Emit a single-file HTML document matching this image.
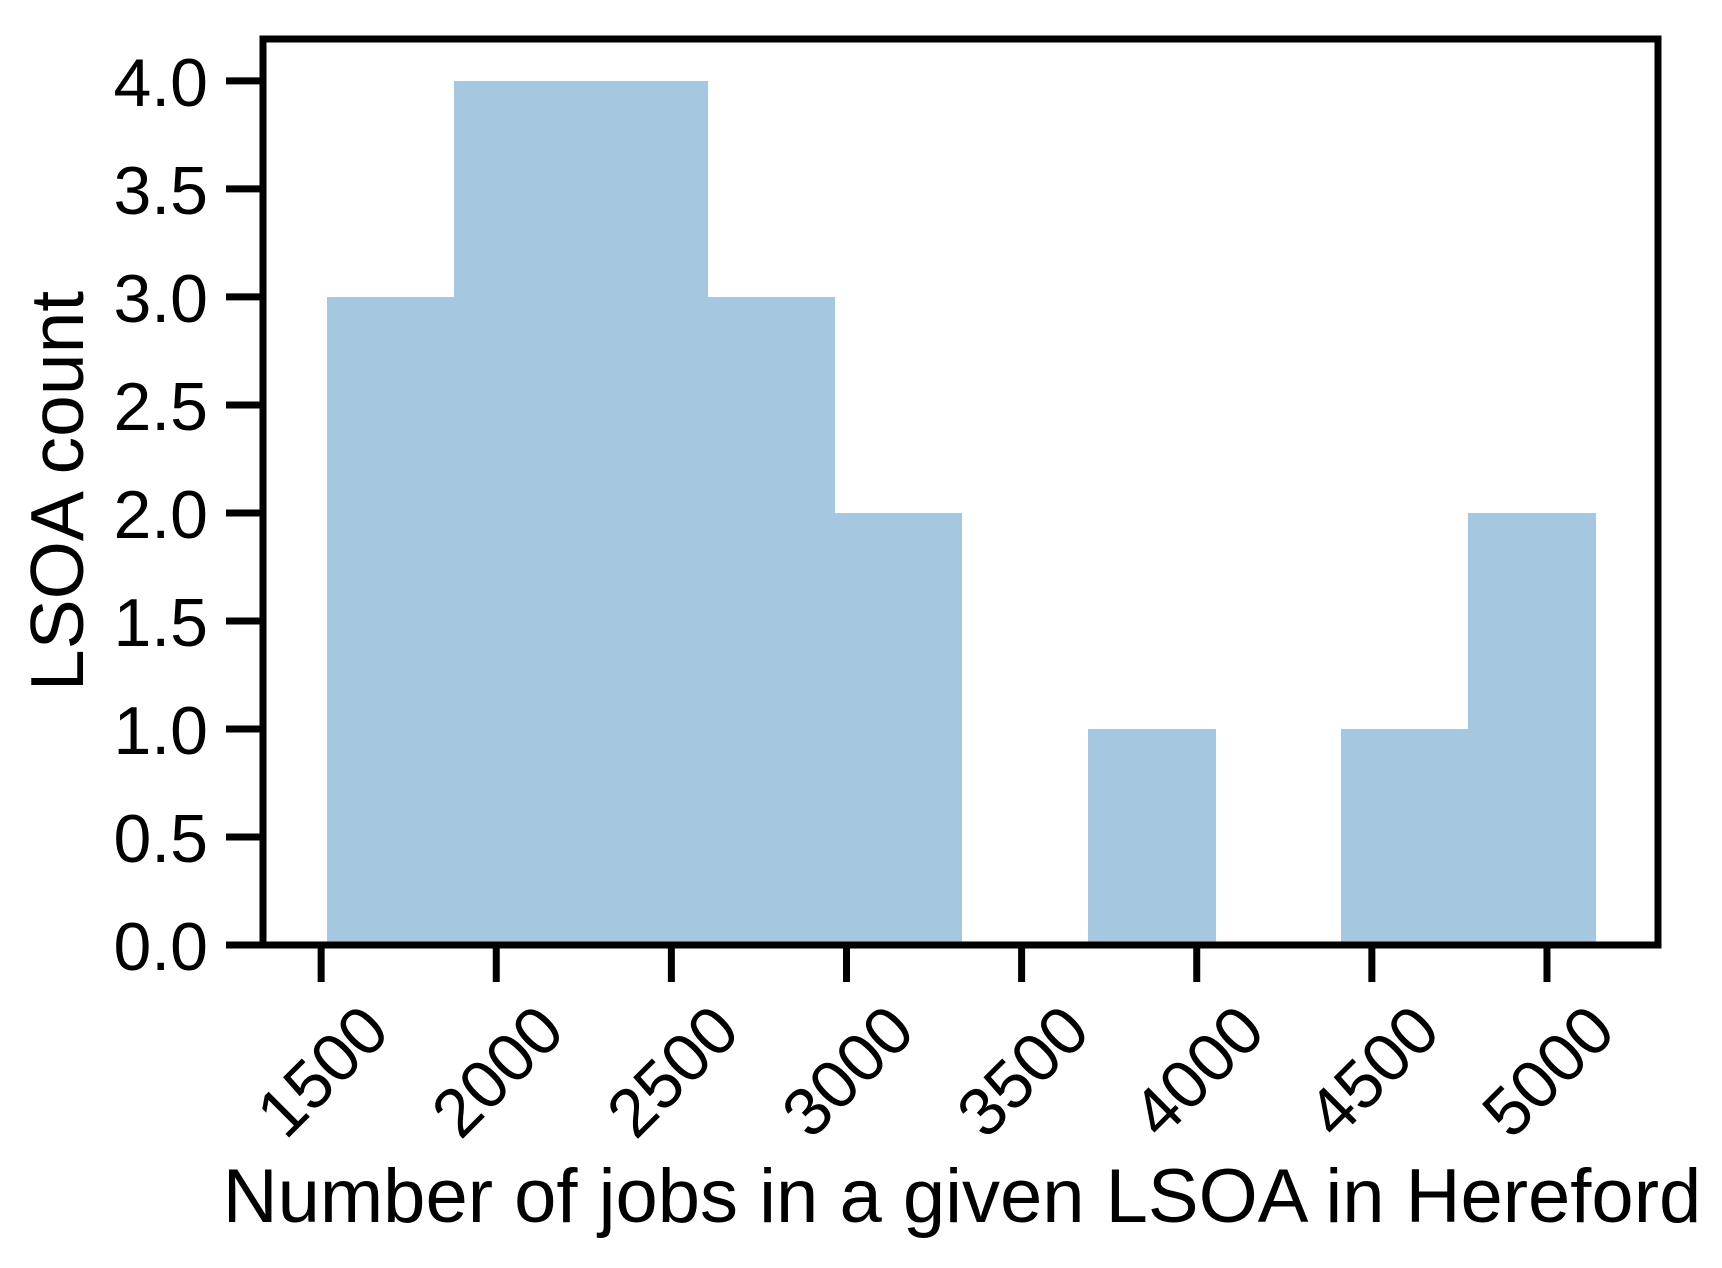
<!DOCTYPE html>
<html><head><meta charset="utf-8"><style>
html,body{margin:0;padding:0;background:#fff;}
svg{display:block;font-family:"Liberation Sans",Arial,sans-serif;}
</style></head><body>
<svg id="chart" width="1722" height="1268" viewBox="0 0 1722 1268" xmlns="http://www.w3.org/2000/svg">
<g id="bars" shape-rendering="crispEdges"></g>
<g id="yticks"></g>
<g id="xticks"></g>
<rect x="263" y="39" width="1395" height="906" fill="none" stroke="#000" stroke-width="7"/>
<text x="962" y="1222" font-size="76" text-anchor="middle">Number of jobs in a given LSOA in Hereford</text>
<text transform="translate(83,491) rotate(-90)" font-size="75" text-anchor="middle">LSOA count</text>
</svg>
<script>
const binStart = 1517;
const binWidth = 362;
const counts = [3, 4, 4, 3, 2, 0, 1, 0, 1, 2];
const xTickValues = [1500, 2000, 2500, 3000, 3500, 4000, 4500, 5000];
const yTickValues = [0, 0.5, 1, 1.5, 2, 2.5, 3, 3.5, 4];
const yTickLabels = ["0.0","0.5","1.0","1.5","2.0","2.5","3.0","3.5","4.0"];

const NS = "http://www.w3.org/2000/svg";
const X0 = 263, X1 = 1658, Y0 = 945, Y1 = 39;
const xMin = 1334, xMax = 5317, yMin = 0, yMax = 4.194;
const xs = v => X0 + (v - xMin) / (xMax - xMin) * (X1 - X0);
const ys = v => Y0 - (v - yMin) / (yMax - yMin) * (Y0 - Y1);

const bars = document.getElementById('bars');
counts.forEach((c, i) => {
  if (c <= 0) return;
  const a = xs(binStart + i * binWidth), b = xs(binStart + (i + 1) * binWidth);
  const r = document.createElementNS(NS, 'rect');
  r.setAttribute('x', Math.round(a)); r.setAttribute('width', Math.round(b) - Math.round(a) + 1);
  r.setAttribute('y', ys(c)); r.setAttribute('height', ys(0) - ys(c));
  r.setAttribute('fill', '#a5c8e0');
  
  
  bars.appendChild(r);
});

const yg = document.getElementById('yticks');
yTickValues.forEach((v, i) => {
  const y = ys(v);
  const l = document.createElementNS(NS, 'line');
  l.setAttribute('x1', 226); l.setAttribute('x2', 263);
  l.setAttribute('y1', y); l.setAttribute('y2', y);
  l.setAttribute('stroke', '#000'); l.setAttribute('stroke-width', 7);
  
  
  yg.appendChild(l);
  const t = document.createElementNS(NS, 'text');
  t.setAttribute('x', 208); t.setAttribute('y', y + 25);
  t.setAttribute('font-size', 68); t.setAttribute('text-anchor', 'end');
  t.textContent = yTickLabels[i];
  
  
  yg.appendChild(t);
});

const xg = document.getElementById('xticks');
xTickValues.forEach(v => {
  const x = xs(v);
  const l = document.createElementNS(NS, 'line');
  l.setAttribute('x1', x); l.setAttribute('x2', x);
  l.setAttribute('y1', 945); l.setAttribute('y2', 982);
  l.setAttribute('stroke', '#000'); l.setAttribute('stroke-width', 7);
  
  
  xg.appendChild(l);
  const t = document.createElementNS(NS, 'text');
  t.setAttribute('transform', 'translate(' + x + ',1070) rotate(-45)');
  t.setAttribute('font-size', 68); t.setAttribute('text-anchor', 'middle');
  t.setAttribute('y', 25);
  t.textContent = String(v);
  
  
  xg.appendChild(t);
});
</script>
</body></html>
